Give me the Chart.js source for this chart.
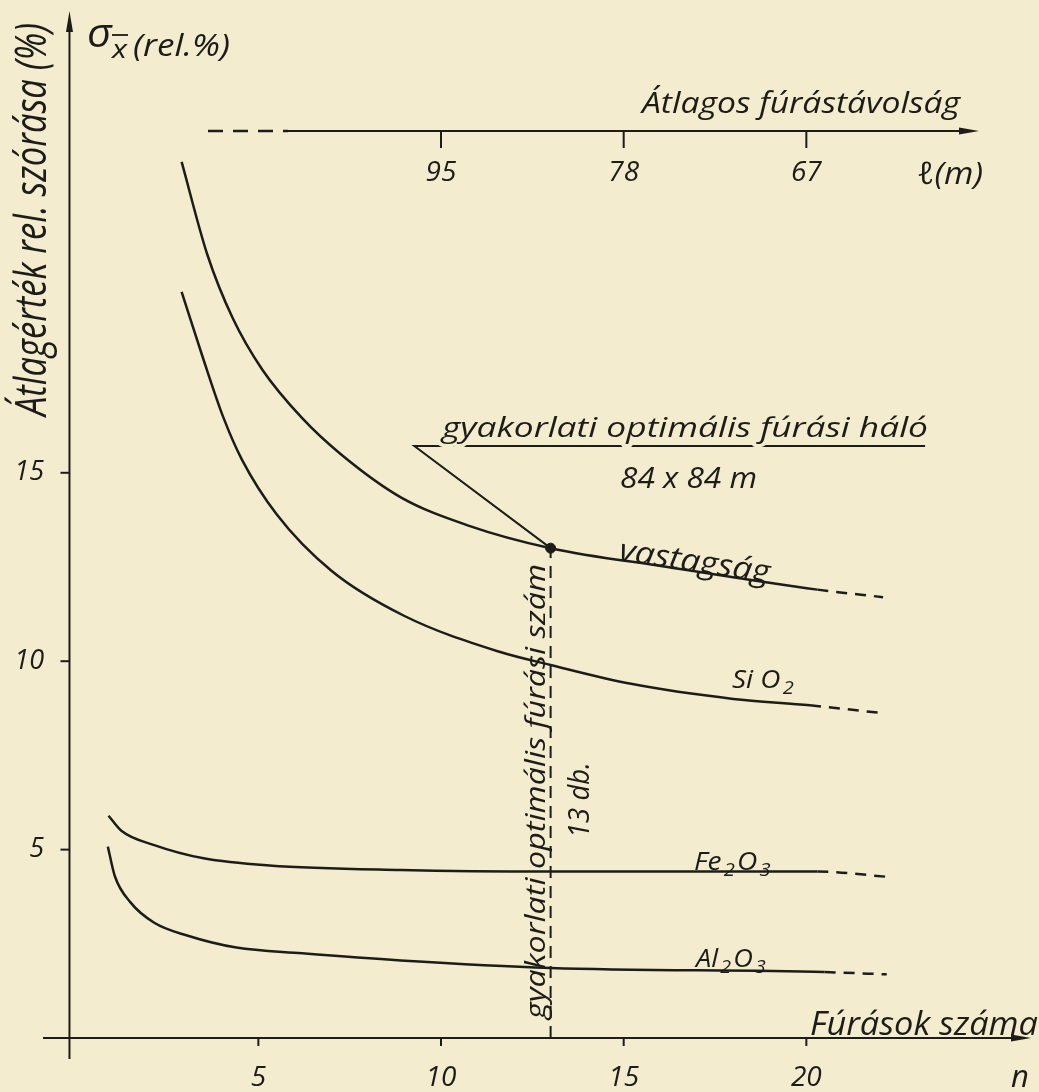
<!DOCTYPE html>
<html>
<head>
<meta charset="utf-8">
<script src="https://cdn.jsdelivr.net/npm/chart.js@4.4.1/dist/chart.umd.min.js"></script>
<style>
  html, body { margin: 0; padding: 0; background: #f3ecce; }
  #wrap { width: 1039px; height: 1092px; position: relative; }
</style>
</head>
<body>
<div id="wrap"><canvas id="chart"></canvas></div>
<script>
// axis ticks
const xTicks = [5, 10, 15, 20];
const yTicks = [5, 10, 15];
const topTickN = [10, 15, 20];          // n positions of the distance scale
const topTickLabels = ["95", "78", "67"];

// optimum
const optimumN = 13;
const optimumValue = 13.0;

// curves (n = number of boreholes, v = rel. %), last point ends the dashed part
const vastagsagN = [2.9, 3.6, 4.3, 5.1, 6.2, 7.25, 8.9, 10.75, 13, 16.2, 20.3, 22.1];
const vastagsagV = [23.25, 20.8, 19.1, 17.75, 16.45, 15.5, 14.35, 13.6, 13.0, 12.5, 11.9, 11.7];

const sio2N = [2.9, 3.5, 4.05, 4.55, 5.5, 7, 9, 11.6, 13, 15.2, 18, 20.1, 22.1];
const sio2V = [19.8, 18.0, 16.45, 15.35, 13.9, 12.4, 11.2, 10.25, 9.9, 9.4, 9.0, 8.83, 8.62];

const fe2o3N = [0.9, 1.25, 2.15, 3.5, 5.3, 8.9, 13, 20.3, 22.2];
const fe2o3V = [5.9, 5.5, 5.12, 4.77, 4.58, 4.46, 4.42, 4.42, 4.28];

const al2o3N = [0.88, 1.07, 1.5, 2.15, 3.05, 4.4, 6.2, 8.9, 13, 20.5, 22.2];
const al2o3V = [5.08, 4.3, 3.6, 3.06, 2.72, 2.4, 2.25, 2.06, 1.86, 1.75, 1.69];

const INK = "#1d1c19";
const PAPER = "#f3ecce";
const FONT = '"Open Sans", "DejaVu Sans", sans-serif';

function pts(xs, ys) {
  return xs.map((x, i) => ({ x: x, y: ys[i] }));
}

function curve(xs, ys) {
  const last = xs.length - 1;
  return {
    type: "line",
    data: pts(xs, ys),
    borderColor: INK,
    borderWidth: 2.5,
    pointRadius: 0,
    fill: false,
    cubicInterpolationMode: "monotone",
    segment: {
      borderDash: ctx => ctx.p1DataIndex === last ? [11, 8] : undefined
    }
  };
}

// text helper: fits the string to a given width when one is passed,
// knockout cuts the lines under it (the drawn underline breaks at descenders)
function txt(ctx, s, x, y, size, opt) {
  opt = opt || {};
  ctx.save();
  ctx.font = "italic 500 " + size + "px " + FONT;
  ctx.fillStyle = INK;
  ctx.textBaseline = opt.baseline || "alphabetic";
  ctx.textAlign = opt.align || "left";
  ctx.translate(x, y);
  if (opt.rot) ctx.rotate(opt.rot * Math.PI / 180);
  if (opt.width) {
    const w = ctx.measureText(s).width;
    ctx.scale(opt.width / w, 1);
  }
  if (opt.knockout) {
    ctx.strokeStyle = PAPER;
    ctx.lineWidth = 7;
    ctx.lineJoin = "round";
    ctx.strokeText(s, 0, 0);
  }
  ctx.fillText(s, 0, 0);
  ctx.restore();
}

// chemical formula with subscripts, parts like ["Fe", "2", "O", "3"]
function formula(ctx, parts, x, y, size, width) {
  ctx.save();
  const sizes = parts.map((p, i) => i % 2 ? size * 0.72 : size);
  let total = 0;
  parts.forEach((p, i) => {
    ctx.font = "italic 500 " + sizes[i] + "px " + FONT;
    total += ctx.measureText(p).width + 2;
  });
  ctx.translate(x, y);
  ctx.scale(width / total, 1);
  let cx = 0;
  parts.forEach((p, i) => {
    ctx.font = "italic 500 " + sizes[i] + "px " + FONT;
    ctx.fillStyle = INK;
    ctx.fillText(p, cx, i % 2 ? size * 0.24 : 0);
    cx += ctx.measureText(p).width + 2;
  });
  ctx.restore();
}

function line(ctx, x1, y1, x2, y2, w, dash) {
  ctx.save();
  ctx.strokeStyle = INK;
  ctx.lineWidth = w;
  ctx.setLineDash(dash || []);
  ctx.beginPath();
  ctx.moveTo(x1, y1);
  ctx.lineTo(x2, y2);
  ctx.stroke();
  ctx.restore();
}

function arrow(ctx, x, y, dir, len, half) {
  ctx.save();
  ctx.fillStyle = INK;
  ctx.beginPath();
  if (dir === "up") {
    ctx.moveTo(x, y); ctx.lineTo(x - half, y + len); ctx.lineTo(x + half, y + len);
  } else {
    ctx.moveTo(x, y); ctx.lineTo(x - len, y - half); ctx.lineTo(x - len, y + half);
  }
  ctx.closePath();
  ctx.fill();
  ctx.restore();
}

const paper = {
  id: "paper",
  beforeDraw(chart) {
    const ctx = chart.ctx;
    ctx.save();
    ctx.fillStyle = PAPER;
    ctx.fillRect(0, 0, chart.width, chart.height);
    ctx.restore();
  }
};

const drawing = {
  id: "drawing",
  afterDatasetsDraw(chart) {
    const ctx = chart.ctx;
    const xs = chart.scales.x, ys = chart.scales.y;
    const x0 = xs.getPixelForValue(-0.17);   // hand-drawn y axis sits a bit left of n = 0
    const y0 = ys.getPixelForValue(0);

    // main axes
    line(ctx, 43, y0, 1014, y0, 2);
    arrow(ctx, 1031, y0, "right", 20, 3.5);
    line(ctx, x0, 1059, x0, 28, 2);
    arrow(ctx, x0, 11, "up", 21, 3.5);

    xTicks.forEach(t => {
      const px = xs.getPixelForValue(t);
      line(ctx, px, y0, px, y0 + 8, 2);
      txt(ctx, String(t), px, 1078, 28, { align: "center", baseline: "middle" });
    });
    yTicks.forEach(t => {
      const py = ys.getPixelForValue(t);
      line(ctx, x0 - 9, py, x0, py, 2);
      txt(ctx, String(t), 44, py, 27, { align: "right", baseline: "middle" });
    });

    // distance scale on top
    const yt = 131;
    line(ctx, 208, yt, 288, yt, 2.4, [15, 10]);
    line(ctx, 288, yt, 962, yt, 2);
    arrow(ctx, 979, yt, "right", 20, 3.5);
    topTickN.forEach((t, i) => {
      const px = xs.getPixelForValue(t);
      line(ctx, px, yt, px, yt + 17, 2);
      txt(ctx, topTickLabels[i], px, 173, 28, { align: "center", baseline: "middle" });
    });
    txt(ctx, "Átlagos fúrástávolság", 642, 113, 30, { width: 318 });
    txt(ctx, "ℓ(m)", 917, 184, 31, { width: 66 });

    // axis titles
    txt(ctx, "σ", 87, 47, 40, { width: 25 });
    txt(ctx, "x", 112, 58, 26, { width: 15 });
    line(ctx, 112, 35, 128, 35, 1.8);
    txt(ctx, "(rel.%)", 133, 56, 31, { width: 97 });
    txt(ctx, "Átlagérték rel. szórása (%)", 46, 416, 43, { rot: -90, width: 393 });
    txt(ctx, "Fúrások száma", 810, 1035, 32, { width: 228 });
    txt(ctx, "n", 1020, 1078, 31, { align: "center", baseline: "middle" });

    // optimum annotations
    txt(ctx, "gyakorlati optimális fúrási szám", 545, 1019, 28, { rot: -90, width: 455 });
    txt(ctx, "13 db.", 589, 838, 29, { rot: -90, width: 76 });
    txt(ctx, "gyakorlati optimális fúrási háló", 442, 437, 28, { width: 486, knockout: true });
    txt(ctx, "84 x 84 m", 620, 488, 30, { width: 137 });

    // curve labels
    txt(ctx, "vastagság", 618, 560, 31, { rot: 8.5, width: 152 });
    formula(ctx, ["Si O", "2"], 732, 688, 25, 64);
    formula(ctx, ["Fe", "2", "O", "3"], 694, 870, 25, 79);
    formula(ctx, ["Al", "2", "O", "3"], 696, 967, 25, 72);
  }
};

new Chart(document.getElementById("chart"), {
  plugins: [paper, drawing],
  data: {
    datasets: [
      curve(vastagsagN, vastagsagV),
      curve(sio2N, sio2V),
      curve(fe2o3N, fe2o3V),
      curve(al2o3N, al2o3V),
      {
        // optimum drop line
        type: "line",
        data: [{ x: optimumN, y: 0 }, { x: optimumN, y: optimumValue }],
        borderColor: INK,
        borderWidth: 2,
        borderDash: [12, 8],
        pointRadius: 0
      },
      {
        // leader line to the underlined note
        type: "line",
        data: [{ x: optimumN, y: optimumValue }, { x: 9.27, y: 15.71 }, { x: 23.25, y: 15.71 }],
        borderColor: INK,
        borderWidth: 2,
        pointRadius: 0,
        tension: 0
      },
      {
        type: "scatter",
        data: [{ x: optimumN, y: optimumValue }],
        pointRadius: 5,
        backgroundColor: INK,
        borderColor: INK
      }
    ]
  },
  options: {
    responsive: true,
    maintainAspectRatio: false,
    animation: false,
    layout: { padding: 0 },
    plugins: { legend: { display: false }, tooltip: { enabled: false } },
    scales: {
      x: { type: "linear", display: false, min: -1.9075, max: 26.204 },
      y: { type: "linear", display: false, min: -1.273, max: 27.388 }
    }
  }
});
</script>
</body>
</html>
